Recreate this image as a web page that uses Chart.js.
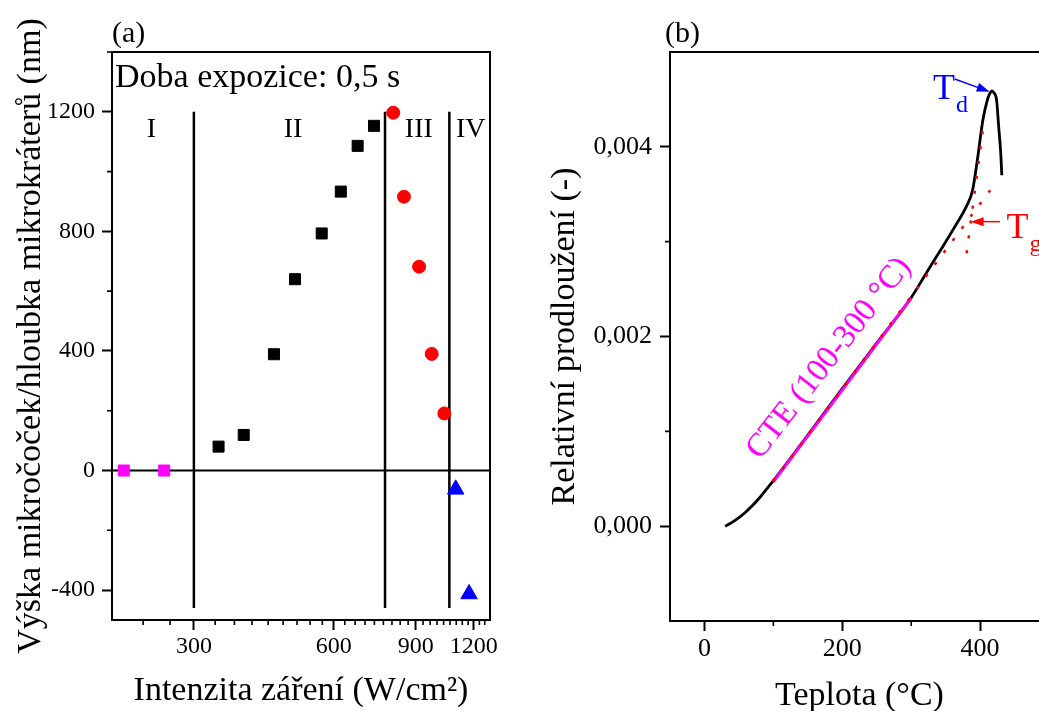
<!DOCTYPE html>
<html>
<head>
<meta charset="utf-8">
<script src="https://cdn.jsdelivr.net/npm/chart.js@4.4.1/dist/chart.umd.min.js"></script>
<style>
  html, body { margin: 0; padding: 0; background: #fff; overflow: hidden; width: 1039px; height: 711px; }
  #boxA { position: absolute; left: 0; top: 0; }
  #boxB { position: absolute; left: 520px; top: 0; }
</style>
</head>
<body>
<div id="boxA"><canvas id="grafA" width="520" height="711"></canvas></div>
<div id="boxB"><canvas id="grafB" width="560" height="716"></canvas></div>
<script>
// ---- (a) data ----
const magentaX = [212, 259];
const magentaY = [0, 0];
const cerneX = [339, 384, 446, 495, 565, 621, 675, 732];
const cerneY = [80, 119, 389, 640, 793, 933, 1086, 1153];
const cerveneX = [805, 849, 915, 974, 1037];
const cerveneY = [1197, 916, 682, 390, 191];
const modreX = [1097, 1172];
const modreY = [-63, -413];
const hraniceX = [300, 773, 1063];
const oblasti = ["I", "II", "III", "IV"];
const oblastiX = [243, 490, 914, 1182];
const tickyXa = [300, 600, 900, 1200];
const tickyYa = [-400, 0, 400, 800, 1200];

// ---- (b) data ----
const teplota = [30, 40, 50, 60, 70, 80, 90, 100, 150, 200, 250, 300, 322, 346, 366, 380, 389, 396, 404, 410, 414, 417, 420, 424, 427, 430, 431.5];
const prodlouzeni = [0, 0.00004, 0.00009, 0.00015, 0.00022, 0.0003, 0.00039, 0.00048, 0.00096, 0.00145, 0.00193, 0.00241, 0.00267, 0.00295, 0.00319, 0.00337, 0.00354, 0.00386, 0.00428, 0.00448, 0.00456, 0.00459, 0.00457, 0.00449, 0.00421, 0.00393, 0.0037];
const cteX = [100, 300];
const cteY = [0.000466, 0.002405];
const tecnaSkloX = [100, 416.8];
const tecnaSkloY = [0.000474, 0.003563];
const tecnaTaveninaX = [380.5, 404.6];
const tecnaTaveninaY = [0.002878, 0.004213];
const tickyXb = [0, 200, 400];
const tickyYb = [0, 0.002, 0.004];
const tickyYbText = ["0,000", "0,002", "0,004"];

const pismo = "Liberation Serif";

function body(xs, ys) {
    return xs.map((x, i) => ({ x: x, y: ys[i] }));
}

function ramecek(chart, minorX, minorY) {
    const { ctx, chartArea: a, scales } = chart;
    ctx.save();
    ctx.strokeStyle = "#000";
    ctx.lineWidth = 2;
    ctx.strokeRect(a.left, a.top, a.right - a.left, a.bottom - a.top);
    ctx.lineWidth = 1.6;
    ctx.beginPath();
    minorX.forEach(v => {
        const px = scales.x.getPixelForValue(v);
        ctx.moveTo(px, a.bottom);
        ctx.lineTo(px, a.bottom + 5);
    });
    minorY.forEach(v => {
        const py = scales.y.getPixelForValue(v);
        ctx.moveTo(a.left, py);
        ctx.lineTo(a.left - 5, py);
    });
    ctx.stroke();
    ctx.restore();
}

function sipka(ctx, x1, y1, x2, y2, barva) {
    const uhel = Math.atan2(y2 - y1, x2 - x1);
    ctx.save();
    ctx.strokeStyle = barva;
    ctx.fillStyle = barva;
    ctx.lineWidth = 1.5;
    ctx.beginPath();
    ctx.moveTo(x1, y1);
    ctx.lineTo(x2 - 10 * Math.cos(uhel), y2 - 10 * Math.sin(uhel));
    ctx.stroke();
    ctx.beginPath();
    ctx.moveTo(x2, y2);
    ctx.lineTo(x2 - 13 * Math.cos(uhel) + 4.5 * Math.sin(uhel), y2 - 13 * Math.sin(uhel) - 4.5 * Math.cos(uhel));
    ctx.lineTo(x2 - 13 * Math.cos(uhel) - 4.5 * Math.sin(uhel), y2 - 13 * Math.sin(uhel) + 4.5 * Math.cos(uhel));
    ctx.closePath();
    ctx.fill();
    ctx.restore();
}

function teplotaSIndexem(ctx, x, y, index, barva) {
    ctx.save();
    ctx.fillStyle = barva;
    ctx.textAlign = "left";
    ctx.textBaseline = "alphabetic";
    ctx.font = "36px '" + pismo + "'";
    ctx.fillText("T", x, y);
    const w = ctx.measureText("T").width;
    ctx.font = "24px '" + pismo + "'";
    ctx.fillText(index, x + w + 1, y + 13);
    ctx.restore();
}

// minor ticks of the log axis: 8 between every pair of majors
const minorXa = [];
for (let k = 1; k < 33; k++) {
    if (k % 9 !== 3) minorXa.push(200 + k * 100 / 3);
}

const doplnkyA = {
    id: "doplnkyA",
    afterDraw(chart) {
        const { ctx, scales } = chart;
        ramecek(chart, minorXa, [-200, 200, 600, 1000, 1400]);
        ctx.save();
        ctx.fillStyle = "#000";
        ctx.textBaseline = "alphabetic";
        ctx.textAlign = "left";
        ctx.font = "30px '" + pismo + "'";
        ctx.fillText("(a)", 112, 42);
        ctx.font = "34px '" + pismo + "'";
        ctx.fillText("Doba expozice: 0,5 s", 115, 87);
        ctx.font = "28px '" + pismo + "'";
        ctx.textAlign = "center";
        oblasti.forEach((t, i) => {
            ctx.fillText(t, scales.x.getPixelForValue(oblastiX[i]), scales.y.getPixelForValue(1115));
        });
        ctx.restore();
    }
};

const doplnkyB = {
    id: "doplnkyB",
    afterDraw(chart) {
        const { ctx, scales } = chart;
        const sx = v => scales.x.getPixelForValue(v);
        const sy = v => scales.y.getPixelForValue(v);
        ramecek(chart, [100, 300], [0.001, 0.003]);
        ctx.save();
        ctx.fillStyle = "#000";
        ctx.textAlign = "left";
        ctx.font = "30px '" + pismo + "'";
        ctx.fillText("(b)", 145, 42);

        // CTE label along the fit
        ctx.translate(sx(181), sy(0.00177));
        ctx.rotate(-52 * Math.PI / 180);
        ctx.fillStyle = "#ff00ff";
        ctx.textAlign = "center";
        ctx.textBaseline = "middle";
        ctx.font = "33px '" + pismo + "'";
        ctx.fillText("CTE (100-300 °C)", 0, 0);
        ctx.restore();

        teplotaSIndexem(ctx, sx(331.6), sy(0.004505), "d", "#0000ff");
        sipka(ctx, sx(363.3), sy(0.004716), sx(414), sy(0.00458), "#0000ff");
        teplotaSIndexem(ctx, sx(438.5), sy(0.003039), "g", "#ff0000");
        sipka(ctx, sx(428.8), sy(0.003211), sx(386.3), sy(0.003211), "#ff0000");
    }
};

const grafA = new Chart(document.getElementById("grafA"), {
    type: "scatter",
    data: {
        datasets: [
            { data: body(magentaX, magentaY), pointStyle: "rect", pointRadius: 7.8, backgroundColor: "#ff00ff", borderColor: "#ff00ff", order: 1 },
            { data: body(cerneX, cerneY), pointStyle: "rect", pointRadius: 7.8, backgroundColor: "#000", borderColor: "#000", order: 1 },
            { data: body(cerveneX, cerveneY), pointStyle: "circle", pointRadius: 6.5, backgroundColor: "#ff0000", borderColor: "#ff0000", order: 1 },
            { data: body(modreX, modreY), pointStyle: "triangle", pointRadius: 9.5, backgroundColor: "#0000ff", borderColor: "#0000ff", order: 1 },
            ...hraniceX.map(x => ({
                data: [{ x: x, y: 1200 }, { x: x, y: -460 }],
                showLine: true, pointRadius: 0, borderColor: "#000", borderWidth: 2.5, order: 5
            })),
            { data: [{ x: 200, y: 0 }, { x: 1300, y: 0 }], showLine: true, pointRadius: 0, borderColor: "#000", borderWidth: 2, order: 5 }
        ]
    },
    options: {
        responsive: false,
        animation: false,
        events: [],
        layout: { padding: { top: 52, right: 30, left: 0, bottom: 0 } },
        plugins: { legend: { display: false }, tooltip: { enabled: false } },
        scales: {
            x: {
                type: "logarithmic",
                min: 200,
                max: 1300,
                afterBuildTicks: s => { s.ticks = tickyXa.map(v => ({ value: v })); },
                afterFit: s => { s.height = 91; },
                border: { display: false },
                grid: { drawOnChartArea: false, tickLength: 10, tickWidth: 2, color: "#000" },
                ticks: { autoSkip: false, maxRotation: 0, padding: 2, color: "#000", font: { family: pismo, size: 24 }, callback: v => String(v) },
                title: { display: true, text: "Intenzita záření (W/cm²)", color: "#000", font: { family: pismo, size: 34 }, padding: { top: 0, bottom: 0 } }
            },
            y: {
                min: -500,
                max: 1400,
                afterBuildTicks: s => { s.ticks = tickyYa.map(v => ({ value: v })); },
                afterFit: s => { s.width = 112; },
                border: { display: false },
                grid: { drawOnChartArea: false, tickLength: 10, tickWidth: 2, color: "#000" },
                ticks: { autoSkip: false, padding: 7, color: "#000", font: { family: pismo, size: 24 }, callback: v => String(v) },
                title: { display: true, text: "Výška mikročoček/hloubka mikrokráterů (nm)", color: "#000", font: { family: pismo, size: 34 }, padding: { top: 11, bottom: 0 } }
            }
        }
    },
    plugins: [doplnkyA]
});

const grafB = new Chart(document.getElementById("grafB"), {
    type: "scatter",
    data: {
        datasets: [
            { data: body(tecnaSkloX, tecnaSkloY), showLine: true, pointRadius: 0, borderColor: "#ff0000", borderWidth: 2.5, borderDash: [3, 12], order: 1 },
            { data: body(tecnaTaveninaX, tecnaTaveninaY), showLine: true, pointRadius: 0, borderColor: "#ff0000", borderWidth: 2.5, borderDash: [3, 12], order: 1 },
            { data: body(cteX, cteY), showLine: true, pointRadius: 0, borderColor: "#ff00ff", borderWidth: 3, order: 2 },
            { data: body(teplota, prodlouzeni), showLine: true, pointRadius: 0, borderColor: "#000", borderWidth: 2.8, cubicInterpolationMode: "monotone", order: 3 }
        ]
    },
    options: {
        responsive: false,
        animation: false,
        events: [],
        layout: { padding: { top: 52, right: 31, left: 0, bottom: 0 } },
        plugins: { legend: { display: false }, tooltip: { enabled: false } },
        scales: {
            x: {
                type: "linear",
                min: -50,
                max: 500,
                afterBuildTicks: s => { s.ticks = tickyXb.map(v => ({ value: v })); },
                afterFit: s => { s.height = 95; },
                border: { display: false },
                grid: { drawOnChartArea: false, tickLength: 10, tickWidth: 2, color: "#000" },
                ticks: { autoSkip: false, maxRotation: 0, padding: 3, color: "#000", font: { family: pismo, size: 26 }, callback: v => String(v) },
                title: { display: true, text: "Teplota (°C)", color: "#000", font: { family: pismo, size: 34 }, padding: { top: 0, bottom: 0 } }
            },
            y: {
                min: -0.001,
                max: 0.005,
                afterBuildTicks: s => { s.ticks = tickyYb.map(v => ({ value: v })); },
                afterFit: s => { s.width = 150; },
                border: { display: false },
                grid: { drawOnChartArea: false, tickLength: 10, tickWidth: 2, color: "#000" },
                ticks: { autoSkip: false, padding: 8, color: "#000", font: { family: pismo, size: 26 }, callback: (v, i) => tickyYbText[i] },
                title: { display: true, text: "Relativní prodloužení (-)", color: "#000", font: { family: pismo, size: 34 }, padding: { top: 25, bottom: 0 } }
            }
        }
    },
    plugins: [doplnkyB]
});
</script>
</body>
</html>
